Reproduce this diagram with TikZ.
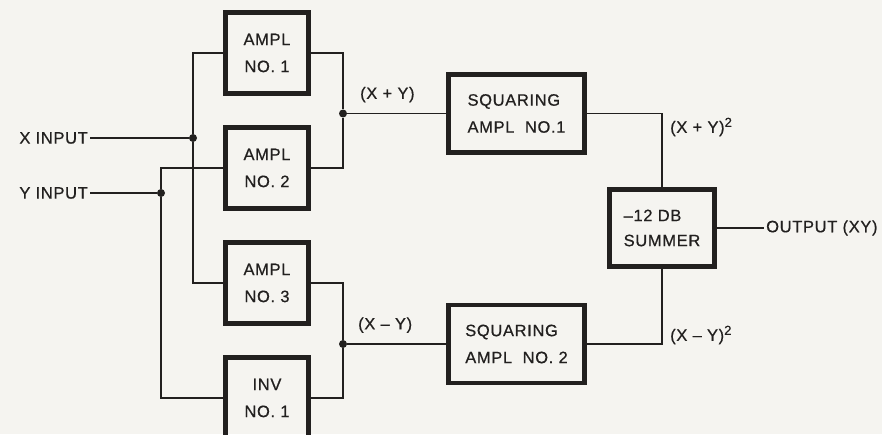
\documentclass[tikz,border=0pt]{standalone}
\usepackage{fontspec}
\usepackage{xcolor}
\usepackage{tikz}
\usetikzlibrary{positioning}
\newfontfamily\letterfont[LetterSpace=4,FakeBold=0.6]{Liberation Sans}
\newcommand\plate{\letterfont\fontsize{16.5}{27}\selectfont}
\newcommand\sq{\raisebox{6pt}{\fontsize{13}{13}\selectfont 2}}
\definecolor{ink}{RGB}{34,32,31}
\definecolor{paper}{RGB}{245,244,240}

\begin{document}
\begin{tikzpicture}[x=1pt, y=1pt,
  node distance=34pt,
  block/.style={draw=ink, text=ink, line width=4.5pt, outer sep=0pt, align=center, minimum width=83pt, minimum height=81pt, font=\plate},
  squarer/.style={block, align=left, minimum width=136pt, minimum height=78pt},
  sumbox/.style={block, align=left, minimum width=105pt, minimum height=77pt, font=\letterfont\fontsize{16.5}{25}\selectfont},
  lbl/.style={text=ink, font=\plate, inner sep=2pt},
  wire/.style={draw=ink, line width=1.8pt},
  dot/.style={circle, fill=ink, inner sep=0pt, minimum size=8pt}]
\fill[paper] (0,0) rectangle (882,434);
\useasboundingbox (0,0) rectangle (882,434);
% amplifiers on the left
\node[block] (ampA) at (267,381) {AMPL\\NO. 1};
\node[block, below=of ampA] (ampB) {AMPL\\NO. 2};
\node[block, below=of ampB] (ampC) {AMPL\\NO. 3};
\node[block, below=of ampC] (invA) {INV\\NO. 1};
% squaring stages and summer
\node[squarer] (sqA) at (516.5,320.5) {SQUARING\\AMPL\ \ NO.1};
\node[squarer] (sqB) at (516.5,90) {SQUARING\\AMPL\ \ NO. 2};
\node[sumbox] (summer) at (662,206) {–12 DB\\SUMMER};
% inputs and output
\node[lbl, anchor=east] (xin) at (90,296) {X INPUT};
\node[lbl, anchor=east] (yin) at (90,241) {Y INPUT};
\node[lbl, anchor=west] (out) at (764,206) {OUTPUT (XY)};
% junctions
\node[dot] (jX) at (193,296) {};
\node[dot] (jY) at (161,241) {};
\node[dot] (jP) at (343,320.5) {};
\node[dot] (jM) at (343,90) {};
% wiring
\draw[wire] (xin) -- (jX);
\draw[wire] (ampA.west) -| (jX) |- (ampC.west);
\draw[wire] (yin) -- (jY);
\draw[wire] (ampB.west) -| (jY) |- (invA.west);
\draw[wire] (ampA.east) -| (jP) |- (ampB.east);
\draw[wire] (ampC.east) -| (jM) |- (invA.east);
\draw[wire] (jP) -- (sqA.west);
\draw[wire] (jM) -- (sqB.west);
\draw[wire] (sqA.east) -| (summer.north);
\draw[wire] (sqB.east) -| (summer.south);
\draw[wire] (summer.east) -- (out);
% signal labels
\node[lbl, above right=6pt and 12pt of jP] (plusA) {(X + Y)};
\node[lbl, above right=6pt and 10pt of jM] (minusA) {(X – Y)};
\node[lbl, anchor=west] (plusB) at (668,307) {(X + Y)\sq};
\node[lbl, anchor=west] (minusB) at (668,99) {(X – Y)\sq};
\end{tikzpicture}
\end{document}
